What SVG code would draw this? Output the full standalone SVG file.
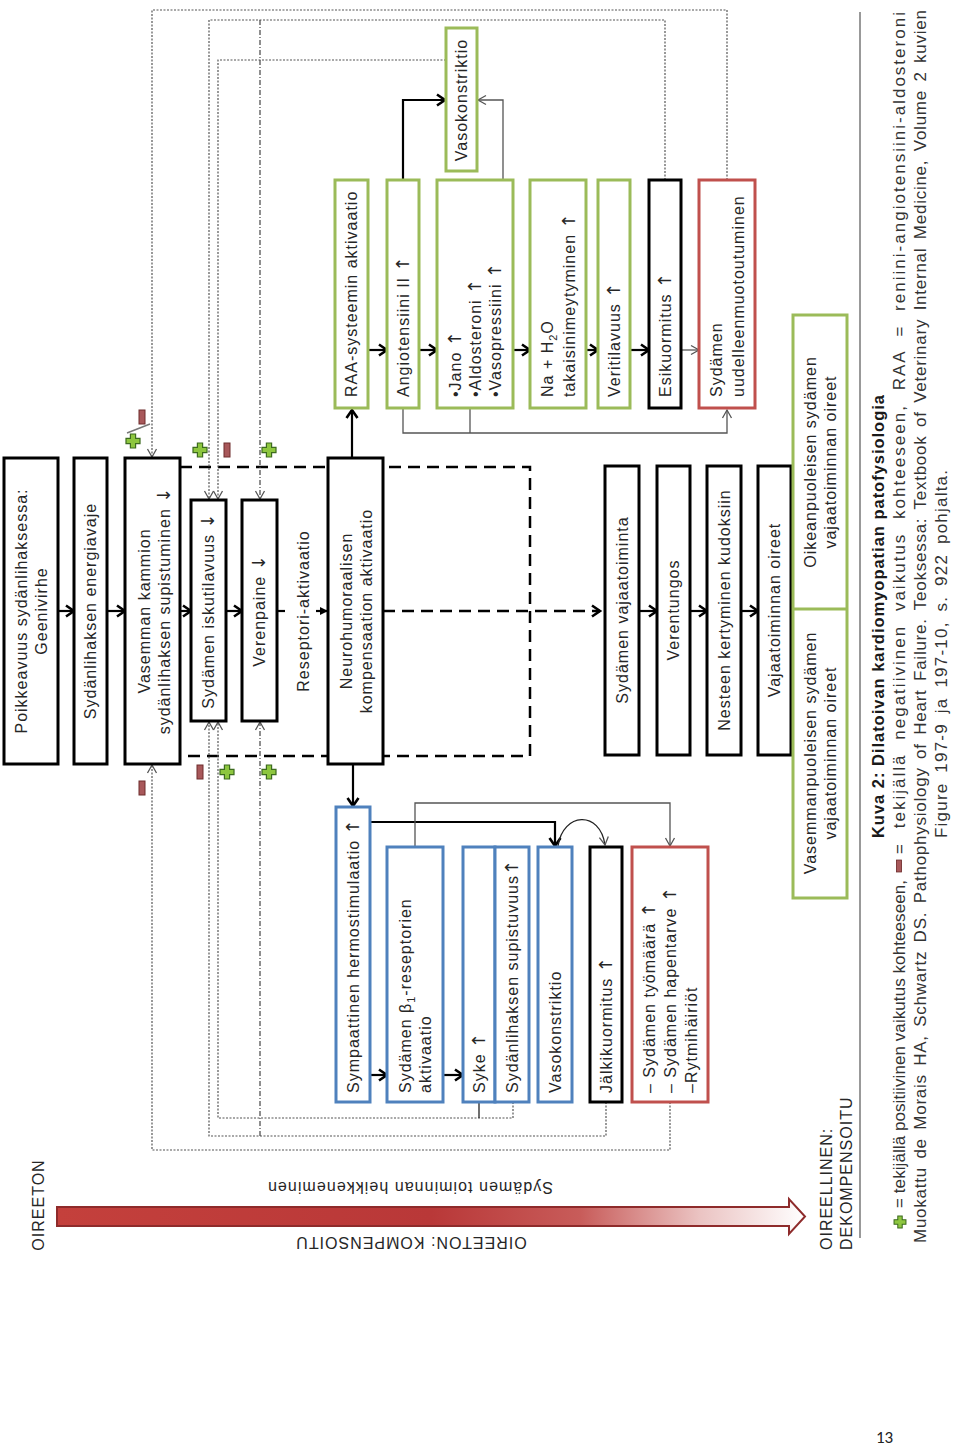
<svg xmlns="http://www.w3.org/2000/svg" width="960" height="1448" viewBox="0 0 960 1448">
<style>
.bx{fill:#fff;stroke:#000;stroke-width:3}
.g{fill:#fff;stroke:#9bbb59;stroke-width:3}
.b{fill:#fff;stroke:#4f81bd;stroke-width:3}
.r{fill:#fff;stroke:#c0504d;stroke-width:3}
.t{font-family:"Liberation Sans",Arial,sans-serif;font-size:16px;letter-spacing:1px;fill:#262626}
.ar{font-family:"DejaVu Sans",sans-serif;font-size:18px;letter-spacing:0}
.c{font-family:"Liberation Sans",Arial,sans-serif;font-size:17px;fill:#333}
.bold{font-weight:bold;fill:#1a1a1a;font-size:16.5px}
.fb{fill:none;stroke:#555;stroke-width:1.2;stroke-dasharray:2 1.5}
.fbd{fill:none;stroke:#444;stroke-width:1.2;stroke-dasharray:5 2 1 2}
.dash{fill:none;stroke:#000;stroke-width:2.5;stroke-dasharray:12 7}
.ab{fill:none;stroke:#000;stroke-width:2.2}
.at{fill:none;stroke:#555;stroke-width:1.3}
.ak{fill:none;stroke:#222;stroke-width:1.3}
</style>
<defs>
<marker id="mb" markerUnits="userSpaceOnUse" markerWidth="14" markerHeight="14" refX="11" refY="7" orient="auto"><path d="M3,1.5 L11,7 L3,12.5" fill="none" stroke="#000" stroke-width="2.6"/></marker>
<marker id="mt" markerUnits="userSpaceOnUse" markerWidth="12" markerHeight="12" refX="10" refY="6" orient="auto"><path d="M2,1.5 L10,6 L2,10.5" fill="none" stroke="#555" stroke-width="1.3"/></marker>
<marker id="mf" markerUnits="userSpaceOnUse" markerWidth="10" markerHeight="10" refX="9" refY="5" orient="auto"><path d="M1,1 L9,5 L1,9 Z" fill="#000"/></marker>
<g id="plus"><path d="M-2.6,-7 H2.6 V-2.6 H7 V2.6 H2.6 V7 H-2.6 V2.6 H-7 V-2.6 H-2.6 Z" fill="#8dc63f" stroke="#3d6b1f" stroke-width="1.2"/></g>
<g id="minus"><rect x="-3" y="-7" width="6" height="14" fill="#a8585a" stroke="#6e2c2c" stroke-width="1"/></g>
<linearGradient id="grad" x1="57" y1="0" x2="805" y2="0" gradientUnits="userSpaceOnUse">
<stop offset="0" stop-color="#c4403c"/><stop offset="0.5" stop-color="#b93838"/><stop offset="0.7" stop-color="#c85c5a"/><stop offset="0.86" stop-color="#ebc4c3"/><stop offset="1" stop-color="#ffffff"/>
</linearGradient>
</defs>

<g id="connectors">
<path class="dash" d="M180,467 H530 V756 H180"/>
<path class="dash" d="M383,611 H600" marker-end="url(#mb)"/>
<path class="ab" d="M58,611 H74" marker-end="url(#mb)"/>
<path class="ab" d="M107,611 H125" marker-end="url(#mb)"/>
<path class="ab" d="M180,611 H191" marker-end="url(#mb)"/>
<path class="ab" d="M226,611 H242" marker-end="url(#mb)"/>
<path class="ab" d="M277,611 H285"/>
<path class="ab" d="M316,611 H328" marker-end="url(#mf)"/>
<path class="ab" d="M639,611 H657" marker-end="url(#mb)"/>
<path class="ab" d="M690,611 H707" marker-end="url(#mb)"/>
<path class="ab" d="M741,611 H758" marker-end="url(#mb)"/>
<path class="ab" d="M352,458 V410" marker-end="url(#mb)"/>
<path class="ab" d="M368,350 H387" marker-end="url(#mb)"/>
<path class="ab" d="M419,350 H437" marker-end="url(#mb)"/>
<path class="ab" d="M513,350 H530" marker-end="url(#mb)"/>
<path class="ab" d="M586,350 H598" marker-end="url(#mb)"/>
<path class="ab" d="M630,350 H649" marker-end="url(#mb)"/>
<path class="at" d="M681,350 H699" marker-end="url(#mt)"/>
<path class="ab" d="M403,180 V100 H445" marker-end="url(#mb)"/>
<path class="at" d="M503,180 V100 H478" marker-end="url(#mt)"/>
<path class="at" d="M403,408 V433 H727 V410" marker-end="url(#mt)"/>
<path class="at" d="M470,408 V433"/>
<path class="ab" d="M353,764 V806" marker-end="url(#mb)"/>
<path class="ab" d="M370,822 H555 V846" marker-end="url(#mb)"/>
<path class="ak" d="M558,846 C563,812 600,810 605,845" marker-end="url(#mt)"/>
<path class="at" d="M415,847 V803 H670 V846" marker-end="url(#mt)"/>
<path class="ab" d="M370,1075 H387" marker-end="url(#mb)"/>
<path class="ab" d="M443,1075 H463" marker-end="url(#mb)"/>
<path class="fb" d="M727,180 V10 H152 V457" marker-end="url(#mt)"/>
<path class="fb" d="M665,180 V20 H209 V499" marker-end="url(#mt)"/>
<path class="fb" d="M446,60 H218 V499" marker-end="url(#mt)"/>
<path class="fbd" d="M260,20 V499" marker-end="url(#mt)"/>
<path class="fb" d="M670,1102 V1150 H152 V765" marker-end="url(#mt)"/>
<path class="fb" d="M606,1102 V1136 H209 V722" marker-end="url(#mt)"/>
<path class="fb" d="M513,1102 V1118 H218 V722" marker-end="url(#mt)"/>
<path class="fbd" d="M260,1136 V722" marker-end="url(#mt)"/>
<path class="ak" d="M479,1102 V1118"/>
<path d="M127,433 L150,424" stroke="#777" stroke-width="1.5"/>
</g>

<g id="signs">
<use href="#plus" x="133" y="441"/>
<use href="#minus" x="142" y="417"/>
<use href="#plus" x="200" y="450"/>
<use href="#minus" x="227" y="450"/>
<use href="#plus" x="269" y="450"/>
<use href="#minus" x="142" y="788"/>
<use href="#minus" x="200" y="772"/>
<use href="#plus" x="227" y="772"/>
<use href="#plus" x="269" y="772"/>
</g>

<g id="n1"><rect class="bx" x="4" y="458" width="54" height="306"/>
<text class="t" transform="translate(31 611) rotate(-90)" text-anchor="middle"><tspan x="0" y="-4.4">Poikkeavuus sydänlihaksessa:</tspan><tspan x="0" y="15.6">Geenivirhe</tspan></text></g>
<g id="n2"><rect class="bx" x="74" y="458" width="33" height="306"/>
<text class="t" transform="translate(90.5 611) rotate(-90)" text-anchor="middle" y="5.6">Sydänlihaksen energiavaje</text></g>
<g id="n3"><rect class="bx" x="125" y="458" width="55" height="306"/>
<text class="t" transform="translate(154 611) rotate(-90)" text-anchor="middle"><tspan x="0" y="-4.4">Vasemman kammion</tspan><tspan x="0" y="15.6">sydänlihaksen supistuminen <tspan class="ar">↓</tspan></tspan></text></g>
<g id="n4"><rect class="bx" x="191" y="500" width="35" height="221"/>
<text class="t" transform="translate(208.5 611) rotate(-90)" text-anchor="middle" y="5.6">Sydämen iskutilavuus <tspan class="ar">↓</tspan></text></g>
<g id="n5"><rect class="bx" x="242" y="500" width="35" height="221"/>
<text class="t" transform="translate(259.5 611) rotate(-90)" text-anchor="middle" y="5.6">Verenpaine <tspan class="ar">↓</tspan></text></g>
<g id="n6"><text class="t" transform="translate(303 611) rotate(-90)" text-anchor="middle" y="5.6">Reseptori-aktivaatio</text></g>
<g id="n7"><rect class="bx" x="328" y="458" width="55" height="306"/>
<text class="t" transform="translate(356 611) rotate(-90)" text-anchor="middle"><tspan x="0" y="-4.4">Neurohumoraalisen</tspan><tspan x="0" y="15.6">kompensaation aktivaatio</tspan></text></g>

<g id="v1"><rect class="bx" x="605" y="466" width="34" height="289"/>
<text class="t" transform="translate(622 610) rotate(-90)" text-anchor="middle" y="5.6">Sydämen vajaatoiminta</text></g>
<g id="v2"><rect class="bx" x="657" y="466" width="33" height="289"/>
<text class="t" transform="translate(673.5 610) rotate(-90)" text-anchor="middle" y="5.6">Verentungos</text></g>
<g id="v3"><rect class="bx" x="707" y="466" width="34" height="289"/>
<text class="t" transform="translate(724 610) rotate(-90)" text-anchor="middle" y="5.6">Nesteen kertyminen kudoksiin</text></g>
<g id="v4"><rect class="bx" x="758" y="466" width="33" height="289"/>
<text class="t" transform="translate(774.5 610) rotate(-90)" text-anchor="middle" y="5.6">Vajaatoiminnan oireet</text></g>
<g id="sym"><rect class="g" x="793" y="315" width="54" height="583"/>
<line x1="793" y1="609" x2="847" y2="609" stroke="#9bbb59" stroke-width="3"/>
<text class="t" transform="translate(820 462) rotate(-90)" text-anchor="middle"><tspan x="0" y="-4.4">Oikeanpuoleisen sydämen</tspan><tspan x="0" y="16">vajaatoiminnan oireet</tspan></text>
<text class="t" transform="translate(820 753) rotate(-90)" text-anchor="middle"><tspan x="0" y="-4.4">Vasemmanpuoleisen sydämen</tspan><tspan x="0" y="16">vajaatoiminnan oireet</tspan></text></g>

<g id="g1"><rect class="g" x="335" y="180" width="33" height="228"/>
<text class="t" transform="translate(351.5 397) rotate(-90)" y="5.6">RAA-systeemin aktivaatio</text></g>
<g id="g2"><rect class="g" x="387" y="180" width="32" height="228"/>
<text class="t" transform="translate(403 397) rotate(-90)" y="5.6">Angiotensiini II <tspan class="ar">↑</tspan></text></g>
<g id="g3"><rect class="g" x="437" y="180" width="76" height="228"/>
<text class="t" transform="translate(475 397) rotate(-90)"><tspan x="0" y="-14.4">•Jano <tspan class="ar">↑</tspan></tspan><tspan x="0" y="5.6">•Aldosteroni <tspan class="ar">↑</tspan></tspan><tspan x="0" y="25.6">•Vasopressiini <tspan class="ar">↑</tspan></tspan></text></g>
<g id="gv"><rect class="g" x="446" y="28" width="31" height="143"/>
<text class="t" transform="translate(461.5 100) rotate(-90)" text-anchor="middle" y="5.6">Vasokonstriktio</text></g>
<g id="g4"><rect class="g" x="530" y="180" width="56" height="228"/>
<text class="t" transform="translate(558 397) rotate(-90)"><tspan x="0" y="-5">Na + H<tspan font-size="11" dy="4">2</tspan><tspan dy="-4">O</tspan></tspan><tspan x="0" y="16.5">takaisinimeytyminen <tspan class="ar">↑</tspan></tspan></text></g>
<g id="g5"><rect class="g" x="598" y="180" width="32" height="228"/>
<text class="t" transform="translate(614 397) rotate(-90)" y="5.6">Veritilavuus <tspan class="ar">↑</tspan></text></g>
<g id="k1"><rect class="bx" x="649" y="180" width="32" height="228"/>
<text class="t" transform="translate(665 397) rotate(-90)" y="5.6">Esikuormitus <tspan class="ar">↑</tspan></text></g>
<g id="r1"><rect class="r" x="699" y="180" width="56" height="228"/>
<text class="t" transform="translate(727 397) rotate(-90)"><tspan x="0" y="-5">Sydämen</tspan><tspan x="0" y="16.5">uudelleenmuotoutuminen</tspan></text></g>

<g id="b1"><rect class="b" x="336" y="807" width="34" height="295"/>
<text class="t" transform="translate(353 1093) rotate(-90)" y="5.6">Sympaattinen hermostimulaatio <tspan class="ar">↑</tspan></text></g>
<g id="b2"><rect class="b" x="387" y="847" width="56" height="255"/>
<text class="t" transform="translate(415 1093) rotate(-90)"><tspan x="0" y="-4.4">Sydämen β<tspan font-size="11" dy="4">1</tspan><tspan dy="-4">-reseptorien</tspan></tspan><tspan x="0" y="15.6">aktivaatio</tspan></text></g>
<g id="b3"><rect class="b" x="463" y="847" width="32" height="255"/>
<text class="t" transform="translate(479 1093) rotate(-90)" y="5.6">Syke <tspan class="ar">↑</tspan></text></g>
<g id="b4"><rect class="b" x="495" y="847" width="34" height="255"/>
<text class="t" transform="translate(512 1093) rotate(-90)" y="5.6">Sydänlihaksen supistuvuus<tspan class="ar">↑</tspan></text></g>
<g id="b5"><rect class="b" x="538" y="847" width="34" height="255"/>
<text class="t" transform="translate(555 1093) rotate(-90)" y="5.6">Vasokonstriktio</text></g>
<g id="k2"><rect class="bx" x="590" y="847" width="32" height="255"/>
<text class="t" transform="translate(606 1093) rotate(-90)" y="5.6">Jälkikuormitus <tspan class="ar">↑</tspan></text></g>
<g id="r2"><rect class="r" x="632" y="847" width="76" height="255"/>
<text class="t" transform="translate(670 1093) rotate(-90)"><tspan x="0" y="-15">– Sydämen työmäärä <tspan class="ar">↑</tspan></tspan><tspan x="0" y="6">– Sydämen hapentarve <tspan class="ar">↑</tspan></tspan><tspan x="0" y="27">–Rytmihäiriöt</tspan></text></g>

<g id="progress">
<path d="M57,1207 H789 V1199 L805,1216.5 L789,1234 V1226 H57 Z" fill="url(#grad)" stroke="#8e2b2b" stroke-width="2"/>
<text class="t" transform="translate(44 1205) rotate(-90)" text-anchor="middle" fill="#333">OIREETON</text>
<text class="t" transform="translate(410 1188) rotate(180)" text-anchor="middle" y="5.6" textLength="286" lengthAdjust="spacing">Sydämen toiminnan heikkeneminen</text>
<text class="t" transform="translate(411 1243) rotate(180)" text-anchor="middle" y="5.6">OIREETON: KOMPENSOITU</text>
<text class="t" transform="translate(832 1250) rotate(-90)">OIREELLINEN:</text>
<text class="t" transform="translate(852 1250) rotate(-90)">DEKOMPENSOITU</text>
<line x1="860" y1="12" x2="860" y2="1238" stroke="#777" stroke-width="1.5"/>
</g>

<g id="caption">
<text class="c bold" transform="translate(884 838) rotate(-90)" textLength="443" lengthAdjust="spacing">Kuva 2: Dilatoivan kardiomyopatian patofysiologia</text>
<use href="#plus" transform="translate(900 1222) scale(0.85)"/>
<text class="c" transform="translate(905 1208) rotate(-90)" textLength="328" lengthAdjust="spacing">= tekijällä positiivinen vaikutus kohteeseen,</text>
<use href="#minus" transform="translate(899 866) scale(0.85)"/>
<text class="c" transform="translate(905 854) rotate(-90)" word-spacing="7" textLength="842" lengthAdjust="spacing">= tekijällä negatiivinen vaikutus kohteeseen, RAA = reniini-angiotensiini-aldosteroni</text>
<text class="c" transform="translate(926 1243) rotate(-90)" word-spacing="3" textLength="1233" lengthAdjust="spacing">Muokattu de Morais HA, Schwartz DS. Pathophysiology of Heart Failure. Teoksessa: Textbook of Veterinary Internal Medicine, Volume 2 kuvien</text>
<text class="c" transform="translate(947 838) rotate(-90)" word-spacing="4" textLength="368" lengthAdjust="spacing">Figure 197-9 ja 197-10, s. 922 pohjalta.</text>
</g>
<text x="876" y="1443" font-family="Carlito, 'Liberation Sans', sans-serif" font-size="17" fill="#222">13</text>
</svg>
